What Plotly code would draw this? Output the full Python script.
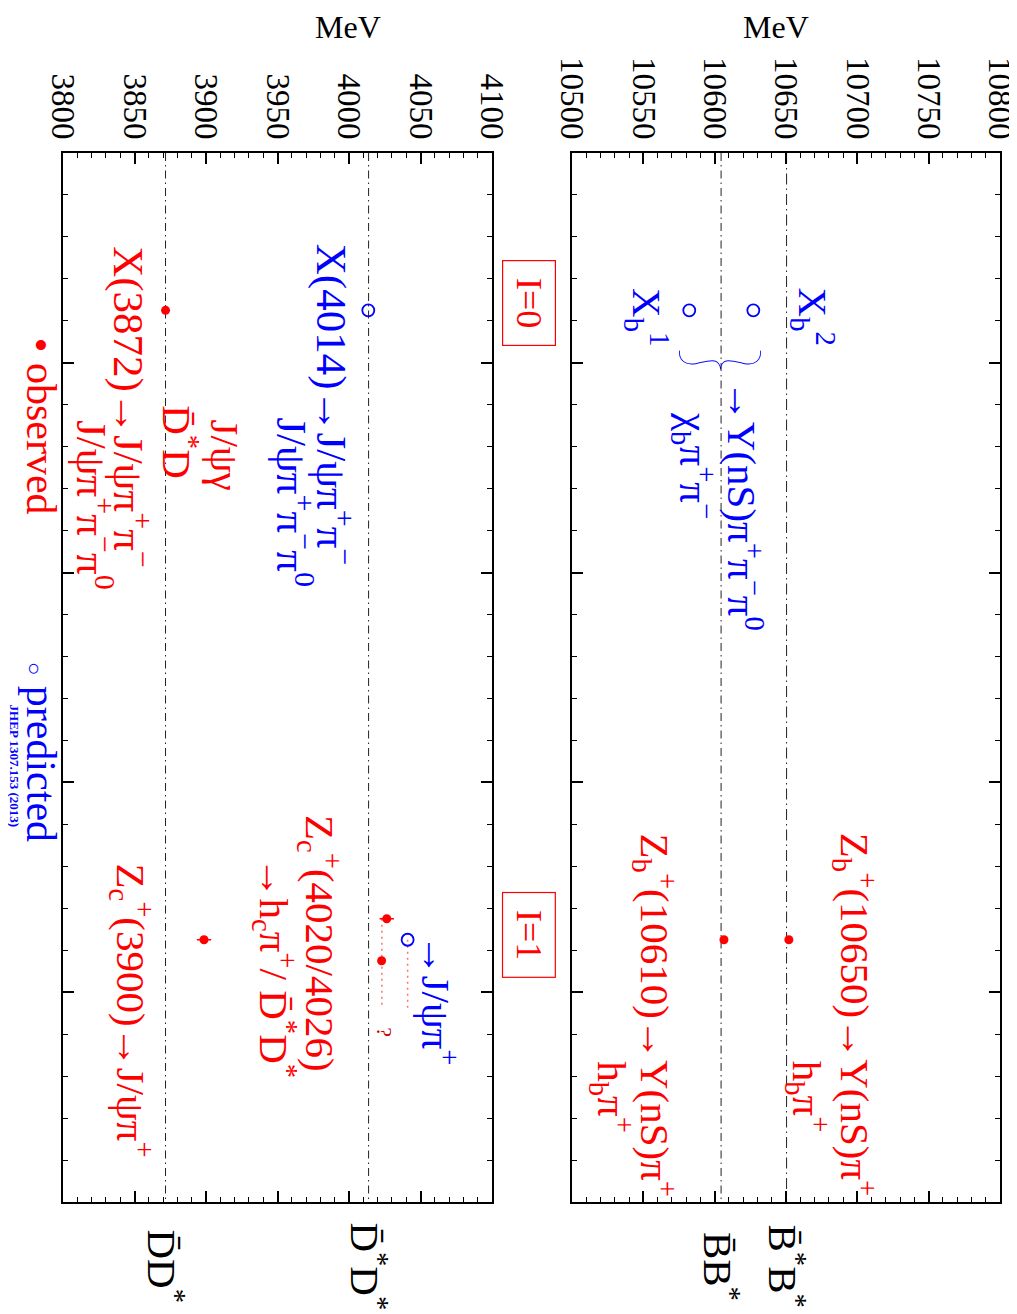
import plotly.graph_objects as go

# ---------------- data ----------------
# thresholds (MeV)
charm_thresholds = [3871.7, 4013.7]
charm_threshold_labels = ["D\u0304D<sup>*</sup>", "D\u0304<sup>*</sup>D<sup>*</sup>"]
bottom_thresholds = [10604.5, 10650.4]
bottom_threshold_labels = ["B\u0304B<sup>*</sup>", "B\u0304<sup>*</sup>B<sup>*</sup>"]

# observed states (filled red): mass, row, mass error
obs_charm_mass = [3871.7, 3898.6, 4026.4, 4022.8]
obs_charm_row = [0.75, 3.75, 3.65, 3.85]
obs_charm_err = [0.3, 5.0, 5.0, 2.0]
obs_bottom_mass = [10606.5, 10652.0]
obs_bottom_row = [3.75, 3.75]
obs_bottom_err = [2.0, 1.5]

# predicted states (open blue)
pred_charm_mass = [4013.5, 4041.0]
pred_charm_row = [0.75, 3.75]
pred_bottom_mass = [10582.2, 10627.1]
pred_bottom_row = [0.75, 0.75]

# dotted guides (Zc(4020) / predicted I=1 -> J/psi pi)
guide_mass = [4023.0, 4041.0]
guide_row_start = [3.65, 3.75]
guide_row_end = [4.075, 4.075]

# ---------------- style ----------------
FONT = "Liberation Serif"
RED = "#ff0000"
BLUE = "#0000ff"
PINK = "#ff7070"
BIG = 41

# page offset of the figure (default body margin) and target plot-area geometry in page px
OFF = 8
W, H = 1017 - OFF, 1314 - OFF
FX0, FX1, FY0, FY1 = 63, 1000, 153, 1202   # frame in page px
L, T = FX0 - OFF, FY0 - OFF
R, B = W - (FX1 - OFF), H - (FY1 - OFF)
PW, PH = W - L - R, H - T - B


def px_x(px):
    return (px - FX0) / PW


def px_y(py):
    return (FY1 - py) / PH


fig = go.Figure()

# threshold dash-dot lines
dash_styles = ["8px,4px,1.5px,4px", "11px,4px,1.5px,4px"]
for xa, ya, thr in (("x", "y", charm_thresholds), ("x2", "y2", bottom_thresholds)):
    for i, t in enumerate(thr):
        fig.add_trace(go.Scatter(x=[t, t], y=[0, 5], mode="lines", xaxis=xa, yaxis=ya,
                                 line=dict(color="#222222", width=1,
                                           dash=dash_styles[1] if xa == "x2" and i == 1 else dash_styles[0]),
                                 hoverinfo="skip", showlegend=False))

# dotted guide lines
for gx, gy0, gy1 in zip(guide_mass, guide_row_start, guide_row_end):
    fig.add_trace(go.Scatter(x=[gx, gx], y=[gy0, gy1], mode="lines", xaxis="x", yaxis="y",
                             line=dict(color=PINK, width=1.5, dash="2px,4px"),
                             hoverinfo="skip", showlegend=False))

# observed
fig.add_trace(go.Scatter(x=obs_charm_mass, y=obs_charm_row, mode="markers", xaxis="x", yaxis="y",
                         marker=dict(color=RED, size=9),
                         error_x=dict(type="data", array=obs_charm_err, color=RED, thickness=1.5, width=0),
                         showlegend=False))
fig.add_trace(go.Scatter(x=obs_bottom_mass, y=obs_bottom_row, mode="markers", xaxis="x2", yaxis="y2",
                         marker=dict(color=RED, size=9),
                         error_x=dict(type="data", array=obs_bottom_err, color=RED, thickness=1.5, width=0),
                         showlegend=False))
# predicted
fig.add_trace(go.Scatter(x=pred_charm_mass, y=pred_charm_row, mode="markers", xaxis="x", yaxis="y",
                         marker=dict(symbol="circle-open", color=BLUE, size=12, line=dict(width=1.8)),
                         showlegend=False))
fig.add_trace(go.Scatter(x=pred_bottom_mass, y=pred_bottom_row, mode="markers", xaxis="x2", yaxis="y2",
                         marker=dict(symbol="circle-open", color=BLUE, size=12, line=dict(width=1.8)),
                         showlegend=False))

ann = []


def lab(text, x, y, color, panel=1, size=BIG, xref=None, yref=None, family=FONT, weight=None, **kw):
    f = dict(family=family, size=size, color=color)
    if weight:
        f["weight"] = weight
    d = dict(text=text, x=x, y=y,
             xref=xref or ("x" if panel == 1 else "x2"),
             yref=yref or ("y" if panel == 1 else "y2"),
             showarrow=False, textangle=90, xanchor="center", yanchor="middle", font=f)
    d.update(kw)
    ann.append(d)


# ---- bottom panel (right) ----
lab("X<sub>b</sub><sup>2</sup>", 10669, 0.78, BLUE, 2)
lab("X<sub>b</sub><sup>1</sup>", 10553, 0.78, BLUE, 2)
lab("}", 10608, 0.985, BLUE, 2, size=94, family="Lato", weight=200)
lab("\u2192\u03A5(nS)\u03C0<sup>+</sup>\u03C0<sup>\u2212</sup>\u03C0<sup>0</sup>", 10621, 1.68, BLUE, 2)
lab("\u03C7<sub>b</sub>\u03C0<sup>+</sup>\u03C0<sup>\u2212</sup>", 10586, 1.49, BLUE, 2)
lab("Z<sub>b</sub><sup>+</sup>(10650)\u2192\u03A5(nS)\u03C0<sup>+</sup>", 10698, 4.11, RED, 2)
lab("h<sub>b</sub>\u03C0<sup>+</sup>", 10665, 4.50, RED, 2)
lab("Z<sub>b</sub><sup>+</sup>(10610)\u2192\u03A5(nS)\u03C0<sup>+</sup>", 10558, 4.11, RED, 2)
lab("h<sub>b</sub>\u03C0<sup>+</sup>", 10528, 4.50, RED, 2)

# ---- charm panel (left) ----
lab("X(4014)\u2192J/\u03C8\u03C0<sup>+</sup>\u03C0<sup>\u2212</sup>", 3989.5, 1.20, BLUE, size=43)
lab("J/\u03C8\u03C0<sup>+</sup>\u03C0<sup>\u2212</sup>\u03C0<sup>0</sup>", 3962, 1.663, BLUE, size=43)
lab("X(3872)\u2192J/\u03C8\u03C0<sup>+</sup>\u03C0<sup>\u2212</sup>", 3848, 1.21, RED, size=43)
lab("J/\u03C8\u03B3", 3913, 1.44, RED)
lab("D\u0304<sup>*</sup>D", 3882, 1.38, RED)
lab("J/\u03C8\u03C0<sup>+</sup>\u03C0<sup>\u2212</sup>\u03C0<sup>0</sup>", 3822, 1.68, RED, size=43)
lab("Z<sub>c</sub><sup>+</sup>(4020/4026)", 3979.7, 3.77, RED)
lab("\u2192h<sub>c</sub>\u03C0<sup>+</sup>/ D\u0304<sup>*</sup>D<sup>*</sup>", 3948, 3.885, RED)
lab("Z<sub>c</sub><sup>+</sup>(3900)\u2192J/\u03C8\u03C0<sup>+</sup>", 3848, 4.085, RED)
lab("\u2192J/\u03C8\u03C0<sup>+</sup>", 4063.6, 4.04, BLUE)
lab("?", 4025, 4.19, "#cc0000", size=22)

# legend-like texts (left of the frame)
lab("\u2022 observed", px_x(41), 1.30, RED, xref="paper", size=42)
lab("<span style='font-size:22px'>\u25CB</span> predicted", px_x(41), 2.855, BLUE, xref="paper", size=42)
lab("<b>JHEP 1307.153 (2013)</b>", px_x(14), 2.92, BLUE, size=13, xref="paper")

# isospin boxes
for txt, yy in (("I=0", 0.715), ("I=1", 3.727)):
    ann.append(dict(text=txt, x=px_x(529), xref="paper", y=yy, yref="y", showarrow=False, textangle=90,
                    xanchor="center", yanchor="middle", bordercolor=RED, borderwidth=1.2, borderpad=6,
                    width=72, height=40,
                    font=dict(family=FONT, size=36, color=RED)))

# threshold labels below frame
for t, s in zip(charm_thresholds, charm_threshold_labels):
    lab(s, t, px_y(1266), "black", yref="paper")
for t, s in zip(bottom_thresholds, bottom_threshold_labels):
    lab(s, t, px_y(1266), "black", 2, yref="paper")

# axis titles
for cx in (348, 776):
    ann.append(dict(text="MeV", x=px_x(cx), y=px_y(27), xref="paper", yref="paper", showarrow=False,
                    xanchor="center", yanchor="middle", font=dict(family=FONT, size=32, color="black")))

axis_common = dict(showgrid=False, zeroline=False, showline=True, linecolor="black", linewidth=2,
                   mirror="allticks", ticks="inside", tickcolor="black", tickwidth=1.5, automargin=False)

xcommon = dict(axis_common, side="top", tickangle=90, dtick=50, ticklen=11, tickformat="d",
               tickfont=dict(family=FONT, size=33, color="black"), ticklabelstandoff=0,
               ticklabeloverflow="allow",
               minor=dict(dtick=10, ticklen=5, ticks="inside", tickcolor="black", tickwidth=1.2))
ycommon = dict(axis_common, range=[5, 0], dtick=1, tick0=0, ticklen=11, showticklabels=False,
               minor=dict(dtick=0.2, ticklen=5, ticks="inside", tickcolor="black", tickwidth=1.2))

fig.update_layout(
    width=W, height=H,
    margin=dict(l=L, r=R, t=T, b=B),
    paper_bgcolor="white", plot_bgcolor="white",
    showlegend=False,
    xaxis=dict(xcommon, domain=[0, px_x(492)], range=[3800, 4100], tick0=3800, anchor="y"),
    xaxis2=dict(xcommon, domain=[px_x(572), 1.0], range=[10500, 10800], tick0=10500, anchor="y2"),
    yaxis=dict(ycommon, domain=[0, 1], anchor="x"),
    yaxis2=dict(ycommon, domain=[0, 1], anchor="x2"),
    annotations=ann,
)

fig.write_html("out.html")
